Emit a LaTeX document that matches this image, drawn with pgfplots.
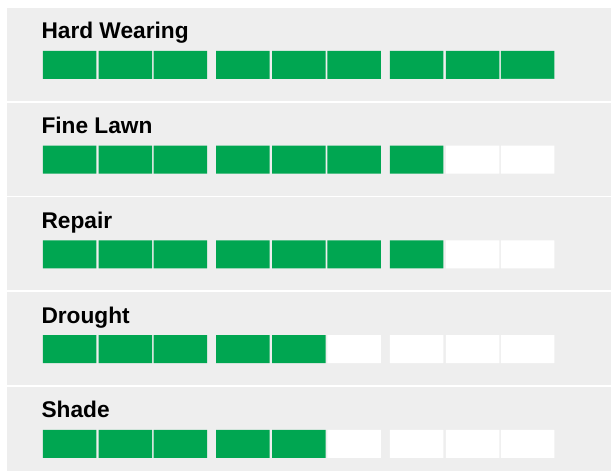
\documentclass[border=0pt]{standalone}
\usepackage{pgfplots}
\pgfplotsset{compat=1.18}
\usepackage{fontspec}
\setmainfont{Liberation Sans}
\definecolor{bargreen}{RGB}{0,166,81}
\definecolor{panelgrey}{RGB}{238,238,238}
\pgfplotsset{panel/.style={scale only axis, width=604pt, xmin=7, xmax=611,
  enlargelimits=false, axis line style={draw=none}, ticks=none,
  axis background/.style={fill=panelgrey}, clip=false, anchor=south west}}
% #1 bottom (pt), #2 height, #3 ymin, #4 title, #5 green segments, #6 white segments
\newcommand\panel[6]{%
\begin{axis}[panel, at={(7pt,#1pt)}, height=#2pt, ymin=#3, ymax=71]
  \addplot[ybar, bar width=53.5, fill=bargreen, draw=none] coordinates {#5};
  \addplot[ybar, bar width=53.5, fill=white, draw=none] coordinates {#6};
  \node[anchor=base west, inner sep=0pt, font=\bfseries\fontsize{22.7}{26}\selectfont] at (axis cs:41.3,40) {#4};
\end{axis}}
\begin{document}
\begin{tikzpicture}
\path[use as bounding box] (0pt,0pt) rectangle (611pt,471pt);
\panel{370}{93}{-22}{Hard Wearing}
  {(69.5,28) (125.3,28) (180.3,28) (242.8,28) (298.8,28) (354,28) (416.5,28) (472.5,28) (527.5,28)}
  {(527.5,0)}
\panel{275.25}{93}{-22}{Fine Lawn}
  {(69.5,28) (125.3,28) (180.3,28) (242.8,28) (298.8,28) (354,28) (416.5,28)}
  {(472.5,28) (527.5,28)}
\panel{180.5}{93}{-22}{Repair}
  {(69.5,28) (125.3,28) (180.3,28) (242.8,28) (298.8,28) (354,28) (416.5,28)}
  {(472.5,28) (527.5,28)}
\panel{85.75}{93}{-22}{Drought}
  {(69.5,28) (125.3,28) (180.3,28) (242.8,28) (298.8,28)}
  {(354,28) (416.5,28) (472.5,28) (527.5,28)}
\panel{0}{84}{-13}{Shade}
  {(69.5,28) (125.3,28) (180.3,28) (242.8,28) (298.8,28)}
  {(354,28) (416.5,28) (472.5,28) (527.5,28)}
\end{tikzpicture}
\end{document}
